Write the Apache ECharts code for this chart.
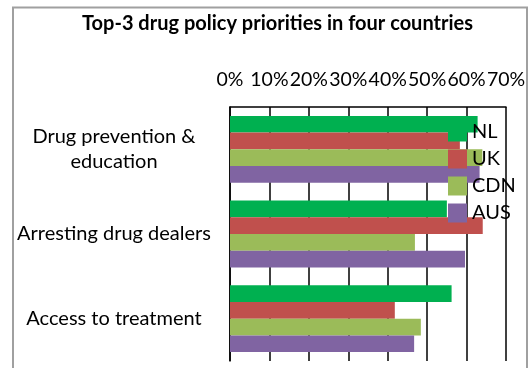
<!DOCTYPE html>
<html>
<head>
<meta charset="utf-8">
<script src="https://cdn.jsdelivr.net/npm/echarts@6/dist/echarts.min.js"></script>
<style>html,body{margin:0;padding:0;background:#fff;}#c{width:532px;height:368px;}</style>
</head>
<body>
<div id="c"></div>
<script>
var titleText = 'Top-3 drug policy priorities in four countries';
var categories = ['Drug prevention &\neducation', 'Arresting drug dealers', 'Access to treatment'];
var seriesNames = ['NL', 'UK', 'CDN', 'AUS'];
var NL  = [62.8, 55.0, 56.2];
var UK  = [58.3, 64.1, 41.8];
var CDN = [64.0, 46.9, 48.4];
var AUS = [63.3, 59.6, 46.7];
var colors = ['#00B050', '#C0504D', '#9BBB59', '#8064A2'];
var FONT = 'Lato';

var chart = echarts.init(document.getElementById('c'), null, {renderer: 'canvas'});
var values = [NL, UK, CDN, AUS];
chart.setOption({
  animation: false,
  backgroundColor: '#fff',
  graphic: [
    {type: 'rect', shape: {x: 13, y: 7.5, width: 514, height: 380},
     style: {fill: 'none', stroke: '#a0a0a0', lineWidth: 2}, z: 0},
    {type: 'text', x: 277.5, y: 23.5,
     style: {text: titleText, align: 'center', verticalAlign: 'middle', fontSize: 20, fontWeight: 'bold', fontFamily: FONT, fill: '#000'}}
  ],
  grid: {left: 230, right: 26, top: 107, bottom: 7, containLabel: false},
  legend: {
    data: seriesNames, orient: 'vertical', left: 448, top: 122,
    itemWidth: 19, itemHeight: 19, itemGap: 7, icon: 'rect', padding: 0,
    textStyle: {fontSize: 20, fontFamily: FONT, color: '#000'}
  },
  xAxis: {
    type: 'value', position: 'top', min: 0, max: 70, interval: 10,
    axisLine: {show: true, lineStyle: {color: '#000', width: 1.5}},
    axisTick: {show: false},
    axisLabel: {formatter: '{value}%', fontSize: 19.5, fontFamily: FONT, color: '#000', margin: 17},
    splitLine: {show: true, lineStyle: {color: '#000', width: 1.5}}
  },
  yAxis: {
    type: 'category', inverse: true, data: categories,
    axisLine: {show: true, lineStyle: {color: '#000', width: 1.5}},
    axisTick: {show: false},
    axisLabel: {align: 'center', margin: 116, fontSize: 20, lineHeight: 25, fontFamily: FONT, color: '#000'}
  },
  series: seriesNames.map(function (n, i) {
    return {name: n, type: 'bar', data: values[i], barGap: 0, barCategoryGap: '21%',
            itemStyle: {color: colors[i]}};
  })
});
</script>
</body>
</html>
